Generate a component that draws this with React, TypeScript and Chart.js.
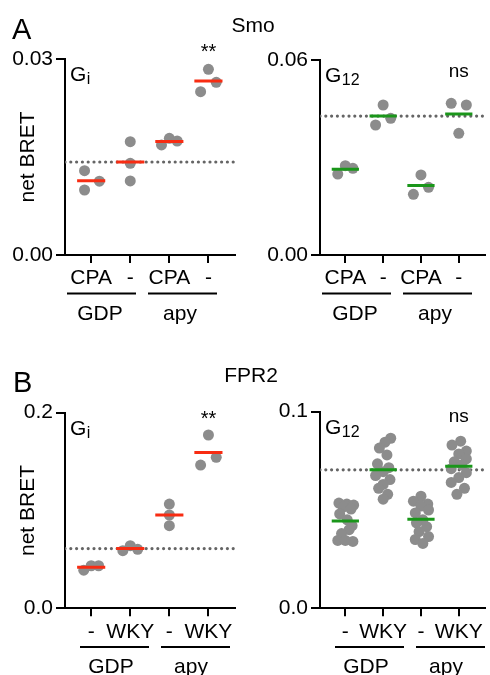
import React, { useEffect, useRef } from 'react';
import { Chart, registerables } from 'chart.js';

Chart.register(...registerables);

const FONT = '"Liberation Sans", Arial, Helvetica, sans-serif';
const RED = '#f82c12';
const GREEN = '#1a961a';
const DOT_GREY = '#8c8c8c';
const REF_GREY = '#656565';

// ---------- data ----------
const categoryPositions = [1, 2, 3, 4];
const groupLabels = ['GDP', 'apy'];
const smoTickLabels = ['CPA', '-', 'CPA', '-'];
const fpr2TickLabels = ['-', 'WKY', '-', 'WKY'];
const referenceCategory = 1; // GDP control -> dotted line

// Smo, Gi
const smoGiValues = [
  [0.0129, 0.00995, 0.0113],
  [0.01734, 0.01404, 0.01133],
  [0.01684, 0.01786, 0.01745],
  [0.02842, 0.025, 0.02643],
];
const smoGiJitter = [
  [-0.17, -0.17, 0.21],
  [0, 0, 0],
  [-0.2, 0, 0.2],
  [0, -0.2, 0.2],
];

// Smo, G12
const smoG12Values = [
  [0.0249, 0.0275, 0.02667],
  [0.04615, 0.04, 0.04205],
  [0.02462, 0.01867, 0.02083],
  [0.04667, 0.04615, 0.03744],
];
const smoG12Jitter = [
  [-0.2, 0, 0.2],
  [0, -0.2, 0.2],
  [0, -0.2, 0.2],
  [-0.2, 0.2, 0],
];

// FPR2, Gi
const fprGiValues = [
  [0.039, 0.0435, 0.0435],
  [0.0589, 0.064, 0.0603],
  [0.1066, 0.0954, 0.0845],
  [0.1772, 0.1465, 0.1544],
];
const fprGiJitter = [
  [-0.19, 0, 0.19],
  [-0.19, 0, 0.19],
  [0, 0, 0],
  [0, -0.2, 0.2],
];

// FPR2, G12
const fprG12Values = [
  [0.0535, 0.053, 0.0525, 0.0515, 0.0505, 0.048, 0.045, 0.042, 0.04, 0.038, 0.0345, 0.034, 0.0345],
  [0.0865, 0.0845, 0.0815, 0.078, 0.0735, 0.0715, 0.0695, 0.0675, 0.0655, 0.063, 0.061, 0.058, 0.0555],
  [0.057, 0.0545, 0.053, 0.052, 0.05, 0.0485, 0.045, 0.0435, 0.0415, 0.039, 0.0365, 0.035, 0.033],
  [0.085, 0.083, 0.08, 0.0785, 0.076, 0.0745, 0.073, 0.071, 0.069, 0.0665, 0.064, 0.061, 0.058],
];
const fprG12Jitter = [
  [-0.17, 0.04, 0.22, -0.06, 0.15, -0.15, 0.05, 0.18, 0.1, -0.1, -0.2, 0.2, 0.0],
  [0.2, 0.05, -0.1, 0.1, -0.15, 0.15, 0.0, -0.2, 0.18, 0.0, -0.12, 0.12, 0.0],
  [0.0, -0.2, 0.18, 0.0, 0.2, -0.15, 0.05, -0.12, 0.15, -0.05, 0.2, -0.15, 0.05],
  [0.05, -0.18, 0.2, 0.0, 0.2, -0.12, 0.08, -0.2, 0.2, 0.0, -0.2, 0.15, -0.05],
];

const yMaxTicks = { smoGi: 0.03, smoG12: 0.06, fprGi: 0.2, fprG12: 0.1 };
const sigLabels = { smoGi: '**', smoG12: 'ns', fprGi: '**', fprG12: 'ns' };
const sigValues = { smoGi: 0.0301, smoG12: 0.0549, fprGi: 0.1874, fprG12: 0.0949 };

// ---------- layout / style specs ----------
const X_MIN = 0.33;
const X_MAX = 4.68;
const W = 490;

const mean = (a: number[]) => a.reduce((s, v) => s + v, 0) / a.length;

type Spec = {
  key: string;
  values: number[][];
  jitter: number[][];
  tickLabels: string[];
  yMax: number;
  decimals: number;
  color: string;
  sub: string;
  sig: string;
  sigY: number;
  sigSize: number;
  canvasTop: number;
  canvasH: number;
  areaLeft: number;
  areaTop: number;
  areaBottom: number;
  letter?: string;
  letterX?: number;
  letterY?: number;
  title?: string;
  titleX?: number;
  titleY?: number;
  yTitle?: string;
  yTitleX?: number;
  groupLineY: number;
  groupTextY: number;
  groupSpans: number[][];
  groupTextX: number[];
};

const specs: Spec[] = [
  {
    key: 'smoGi', values: smoGiValues, jitter: smoGiJitter, tickLabels: smoTickLabels,
    yMax: yMaxTicks.smoGi, decimals: 2, color: RED, sub: 'i', sig: sigLabels.smoGi, sigY: sigValues.smoGi, sigSize: 20,
    canvasTop: 0, canvasH: 340, areaLeft: 65, areaTop: 59, areaBottom: 255,
    letter: 'A', letterX: 12, letterY: 38.5, title: 'Smo', titleX: 253, titleY: 31.5,
    yTitle: 'net BRET', yTitleX: 28,
    groupLineY: 293.5, groupTextY: 319.5, groupSpans: [[2, 71], [83, 152]], groupTextX: [35, 115],
  },
  {
    key: 'smoG12', values: smoG12Values, jitter: smoG12Jitter, tickLabels: smoTickLabels,
    yMax: yMaxTicks.smoG12, decimals: 2, color: GREEN, sub: '12', sig: sigLabels.smoG12, sigY: sigValues.smoG12, sigSize: 19,
    canvasTop: 0, canvasH: 340, areaLeft: 320, areaTop: 60, areaBottom: 255,
    groupLineY: 293.5, groupTextY: 319.5, groupSpans: [[2, 71], [83, 152]], groupTextX: [35, 115],
  },
  {
    key: 'fprGi', values: fprGiValues, jitter: fprGiJitter, tickLabels: fpr2TickLabels,
    yMax: yMaxTicks.fprGi, decimals: 1, color: RED, sub: 'i', sig: sigLabels.fprGi, sigY: sigValues.fprGi, sigSize: 20,
    canvasTop: 340, canvasH: 335, areaLeft: 65, areaTop: 412.7, areaBottom: 608.3,
    letter: 'B', letterX: 13, letterY: 391.5, title: 'FPR2', titleX: 251, titleY: 381.5,
    yTitle: 'net BRET', yTitleX: 28,
    groupLineY: 647, groupTextY: 673, groupSpans: [[15, 84], [96, 165]], groupTextX: [46, 126],
  },
  {
    key: 'fprG12', values: fprG12Values, jitter: fprG12Jitter, tickLabels: fpr2TickLabels,
    yMax: yMaxTicks.fprG12, decimals: 1, color: GREEN, sub: '12', sig: sigLabels.fprG12, sigY: sigValues.fprG12, sigSize: 19,
    canvasTop: 340, canvasH: 335, areaLeft: 320, areaTop: 411.7, areaBottom: 608.3,
    groupLineY: 647, groupTextY: 673, groupSpans: [[15, 84], [96, 165]], groupTextX: [46, 126],
  },
];

function decorPlugin(s: Spec) {
  return {
    id: 'decor_' + s.key,
    afterDraw(chart: any) {
      const ctx = chart.ctx as CanvasRenderingContext2D;
      const ca = chart.chartArea;
      const xs = chart.scales.x;
      const ys = chart.scales.y;
      const T = s.canvasTop;
      ctx.save();
      ctx.fillStyle = '#000';
      ctx.strokeStyle = '#000';
      ctx.textBaseline = 'alphabetic';
      if (s.letter) {
        ctx.font = `29px ${FONT}`;
        ctx.textAlign = 'left';
        ctx.fillText(s.letter, s.letterX!, s.letterY! - T);
      }
      if (s.title) {
        ctx.font = `21px ${FONT}`;
        ctx.textAlign = 'center';
        ctx.fillText(s.title, s.titleX!, s.titleY! - T);
      }
      if (s.yTitle) {
        ctx.save();
        ctx.translate(s.yTitleX!, (ca.top + ca.bottom) / 2);
        ctx.rotate(-Math.PI / 2);
        ctx.font = `21px ${FONT}`;
        ctx.textAlign = 'center';
        ctx.textBaseline = 'middle';
        ctx.fillText(s.yTitle, 0, 0);
        ctx.restore();
      }
      // G subunit label
      ctx.font = `21px ${FONT}`;
      ctx.textAlign = 'left';
      const gx = ca.left + 5;
      const gy = ca.top + 22;
      ctx.fillText('G', gx, gy);
      const gw = ctx.measureText('G').width;
      ctx.font = `16px ${FONT}`;
      ctx.fillText(s.sub, gx + gw + 0.5, gy + 3);
      // significance
      ctx.font = `${s.sigSize}px ${FONT}`;
      ctx.textAlign = 'center';
      ctx.fillText(s.sig, xs.getPixelForValue(categoryPositions[3]), ys.getPixelForValue(s.sigY));
      // group lines and labels
      ctx.lineWidth = 2;
      s.groupSpans.forEach((span, i) => {
        ctx.beginPath();
        ctx.moveTo(ca.left + span[0], s.groupLineY - T);
        ctx.lineTo(ca.left + span[1], s.groupLineY - T);
        ctx.stroke();
        ctx.font = `21px ${FONT}`;
        ctx.textAlign = 'center';
        ctx.fillText(groupLabels[i], ca.left + s.groupTextX[i], s.groupTextY - T);
      });
      ctx.restore();
    },
  };
}

function Panel({ s }: { s: Spec }) {
  const ref = useRef<HTMLCanvasElement | null>(null);
  useEffect(() => {
    if (!ref.current) return;
    const points: { x: number; y: number }[] = [];
    s.values.forEach((arr, ci) => {
      arr.forEach((v, j) => points.push({ x: categoryPositions[ci] + s.jitter[ci][j], y: v }));
    });
    const meanLine: { x: number; y: number | null }[] = [];
    s.values.forEach((arr, ci) => {
      const m = mean(arr);
      const c = categoryPositions[ci];
      meanLine.push({ x: c - 0.36, y: m }, { x: c + 0.36, y: m }, { x: c + 0.5, y: null });
    });
    const ref0 = mean(s.values[referenceCategory]);
    const padTop = s.areaTop - s.canvasTop;
    const xAxisH = s.canvasH - (s.areaBottom - s.canvasTop);
    const leftPad = s.areaLeft < 200 ? 0 : 245;
    const yAxisW = s.areaLeft - leftPad;
    const rightPad = s.areaLeft < 200 ? W - (s.areaLeft + 170) : 0;

    const chart = new Chart(ref.current, {
      type: 'scatter',
      data: {
        datasets: [
          {
            data: meanLine as any,
            showLine: true,
            borderColor: s.color,
            borderWidth: 3,
            pointRadius: 0,
            spanGaps: false,
            order: 0,
          } as any,
          {
            data: points,
            pointRadius: 5.5,
            pointBackgroundColor: DOT_GREY,
            pointBorderWidth: 0,
            backgroundColor: DOT_GREY,
            borderColor: DOT_GREY,
            order: 1,
          } as any,
          {
            data: [{ x: X_MIN, y: ref0 }, { x: X_MAX, y: ref0 }],
            showLine: true,
            borderColor: REF_GREY,
            borderWidth: 3.2,
            borderDash: [0, 5.8],
            borderCapStyle: 'round',
            pointRadius: 0,
            order: 2,
          } as any,
        ],
      },
      options: {
        animation: false,
        responsive: false,
        devicePixelRatio: 1,
        events: [],
        layout: { padding: { left: leftPad, top: padTop, right: rightPad, bottom: 0 } },
        plugins: { legend: { display: false }, tooltip: { enabled: false } },
        scales: {
          x: {
            type: 'linear',
            min: X_MIN,
            max: X_MAX,
            afterBuildTicks: (sc: any) => {
              sc.ticks = categoryPositions.map((v) => ({ value: v }));
            },
            afterFit: (sc: any) => {
              sc.height = xAxisH;
            },
            ticks: {
              autoSkip: false,
              maxRotation: 0,
              padding: 3,
              color: '#000',
              font: { family: FONT, size: 21 },
              callback: (_v: any, i: number) => s.tickLabels[i],
            },
            grid: { drawOnChartArea: false, drawTicks: true, tickLength: 8, color: '#000', lineWidth: 2 },
            border: { display: true, color: '#000', width: 2 },
          },
          y: {
            type: 'linear',
            min: 0,
            max: s.yMax,
            afterBuildTicks: (sc: any) => {
              sc.ticks = [{ value: 0 }, { value: s.yMax }];
            },
            afterFit: (sc: any) => {
              sc.width = yAxisW;
            },
            ticks: {
              padding: 3,
              color: '#000',
              font: { family: FONT, size: 21 },
              callback: (v: any) => Number(v).toFixed(s.decimals),
            },
            grid: { drawOnChartArea: false, drawTicks: true, tickLength: 9, color: '#000', lineWidth: 2 },
            border: { display: true, color: '#000', width: 2 },
          },
        },
      } as any,
      plugins: [decorPlugin(s)],
    });
    return () => chart.destroy();
  }, [s]);
  return (
    <canvas
      ref={ref}
      width={W}
      height={s.canvasH}
      style={{ position: 'absolute', left: 0, top: s.canvasTop, width: W, height: s.canvasH }}
    />
  );
}

export default function App() {
  return (
    <div style={{ position: 'fixed', left: 0, top: 0, width: W, height: 675, background: '#fff', overflow: 'hidden' }}>
      {specs.map((s) => (
        <Panel key={s.key} s={s} />
      ))}
    </div>
  );
}
